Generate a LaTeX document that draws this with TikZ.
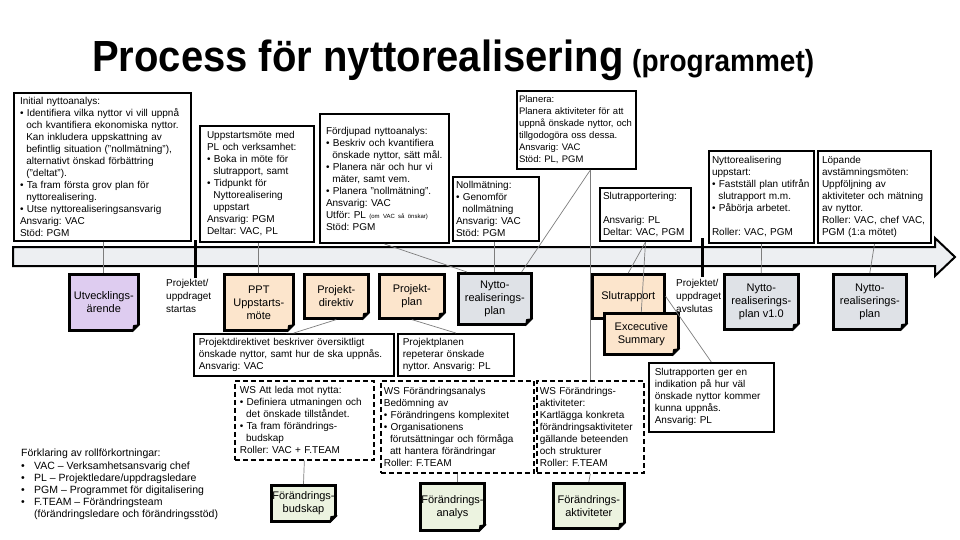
\documentclass[tikz,border=0pt]{standalone}
\usepackage{fontspec}
\setmainfont{Liberation Sans}
\usetikzlibrary{calc}
\definecolor{nrPurple}{RGB}{222,204,240}
\definecolor{nrPeach}{RGB}{252,229,204}
\definecolor{nrSlate}{RGB}{223,226,231}
\definecolor{nrGreen}{RGB}{236,243,224}
\definecolor{nrTrack}{RGB}{237,239,242}
\definecolor{nrWire}{RGB}{125,125,125}
\newcommand{\nrtext}{\fontsize{10}{12}\selectfont}
\newcommand{\nrdocfont}{\fontsize{11}{13}\selectfont}
\newcommand{\bul}{\textbullet\ }
\newcommand{\ind}{\hspace*{6.3pt}}
\tikzset{
  nrbox/.style={draw, line width=2pt, anchor=north west, align=left, inner sep=3pt, font=\nrtext},
  nrnote/.style={nrbox, line width=1.6pt},
  nrws/.style={nrbox, line width=1.7pt, dash pattern=on 5pt off 3pt},
  nrdoc/.style={draw, line width=2.6pt, anchor=north west, align=center, inner sep=1pt, font=\nrdocfont, fill=#1},
  nrline/.style={draw=nrWire, line width=0.7pt},
  nrtick/.style={line width=3pt},
  nrlabel/.style={anchor=north west, align=left, inner sep=0pt, font=\nrtext},
}
% folded corner of a document node
\newcommand{\dogear}[1]{%
  \fill[white] ($(#1.south east)+(-8.5pt,-1.5pt)$) -- ($(#1.south east)+(1.5pt,8.5pt)$) -- ($(#1.south east)+(1.5pt,-1.5pt)$) -- cycle;
  \fill[black, draw, line width=1pt, line join=round] ($(#1.south east)+(-7pt,0pt)$) -- ($(#1.south east)+(0pt,7pt)$) -- ($(#1.south east)+(-6pt,6pt)$) -- cycle;
}

\begin{document}
\frenchspacing
\begin{tikzpicture}[x=1pt, y=-1pt]
  \useasboundingbox (0,0) rectangle (960,540);

  % Title
  \node[anchor=base west, inner sep=0pt, font=\fontsize{40}{48}\selectfont\bfseries] (title) at (92,72) {\scalebox{1}[1.09]{Process för nyttorealisering}};
  \node[anchor=base west, inner sep=0pt, font=\fontsize{28}{34}\selectfont\bfseries] (subtitle) at (632,72) {\scalebox{1}[1.09]{(programmet)}};

  % Timeline
  \draw[line width=2pt, fill=nrTrack, line join=miter] (13,247) -- (935,247) -- (935,238) -- (955,257) -- (935,276) -- (935,266) -- (13,266) -- cycle;
  \draw[nrtick] (195,240) -- (195,278);
  \draw[nrtick] (702,238) -- (702,277);

  % Activities above the timeline
  \node[nrbox, text width=165pt, inner xsep=6pt, minimum height=148pt] (init) at (13,92) {Initial nyttoanalys:\\
    \bul Identifiera vilka nyttor vi vill uppnå\\
    \ind och kvantifiera ekonomiska nyttor.\\
    \ind Kan inkludera uppskattning av\\
    \ind befintlig situation ("nollmätning"),\\
    \ind alternativt önskad förbättring\\
    \ind ("deltat").\\
    \bul Ta fram första grov plan för\\
    \ind nyttorealisering.\\
    \bul Utse nyttorealiseringsansvarig\\
    Ansvarig: VAC\\
    Stöd: PGM};
  \node[nrbox, text width=100pt, inner xsep=7pt, minimum height=116pt] (upp) at (199,125) {Uppstartsmöte med\\
    PL och verksamhet:\\
    \bul Boka in möte för\\
    \ind slutrapport, samt\\
    \bul Tidpunkt för\\
    \ind Nyttorealisering\\
    \ind uppstart\\
    Ansvarig: PGM\\
    Deltar: VAC, PL};
  \node[nrbox, text width=117pt, inner xsep=6pt, minimum height=129pt] (fordj) at (319,113) {Fördjupad nyttoanalys:\\
    \bul Beskriv och kvantifiera\\
    \ind önskade nyttor, sätt mål.\\
    \bul Planera när och hur vi\\
    \ind mäter, samt vem.\\
    \bul Planera "nollmätning".\\
    Ansvarig: VAC\\
    Utför: PL {\fontsize{6}{7}\selectfont(om VAC så önskar)}\\
    Stöd: PGM};
  \node[nrbox, text width=115pt, inner xsep=2pt, minimum height=78pt, font=\fontsize{9.5}{12}\selectfont] (plan) at (516,90) {Planera:\\
    Planera aktiviteter för att\\
    uppnå önskade nyttor, och\\
    tillgodogöra oss dessa.\\
    Ansvarig: VAC\\
    Stöd: PL, PGM};
  \node[nrbox, text width=80pt, minimum height=64pt] (noll) at (452,176) {Nollmätning:\\
    \bul Genomför\\
    \ind nollmätning\\
    Ansvarig: VAC\\
    Stöd: PGM};
  \node[nrbox, text width=85pt, minimum height=53pt] (slrep) at (599,187) {Slutrapportering:\\[12pt]
    Ansvarig: PL\\
    Deltar: VAC, PGM};
  \node[nrbox, text width=99pt, minimum height=92pt] (nyupp) at (708,150) {Nyttorealisering\\
    uppstart:\\
    \bul Fastställ plan utifrån\\
    \ind slutrapport m.m.\\
    \bul Påbörja arbetet.\\[12pt]
    Roller: VAC, PGM};
  \node[nrbox, text width=105pt, inner xsep=4pt, minimum height=92pt] (lop) at (817,150) {Löpande\\
    avstämningsmöten:\\
    Uppföljning av\\
    aktiviteter och mätning\\
    av nyttor.\\
    Roller: VAC, chef VAC,\\
    PGM (1:a mötet)};

  % Documents on the timeline
  \node[nrlabel, font=\fontsize{10}{13}\selectfont] (start) at (166,279) {Projektet/\\uppdraget\\startas};
  \node[nrlabel, font=\fontsize{10}{13}\selectfont] (stop) at (676,279) {Projektet/\\uppdraget\\avslutas};
  \node[nrdoc=nrPurple, minimum width=69pt, minimum height=56pt] (utv) at (68,273) {Utvecklings-\\ärende};
  \node[nrdoc=nrPeach, minimum width=69pt, minimum height=56pt] (ppt) at (223,273) {PPT\\Uppstarts-\\möte};
  \node[nrdoc=nrPeach, minimum width=64pt, minimum height=44pt] (dir) at (303,273) {Projekt-\\direktiv};
  \node[nrdoc=nrPeach, minimum width=65pt, minimum height=44pt] (ppl) at (378,273) {Projekt-\\plan};
  \node[nrdoc=nrSlate, minimum width=73pt, minimum height=51pt] (nrp) at (457,272) {Nytto-\\realiserings-\\plan};
  \node[nrdoc=nrPeach, minimum width=72pt, minimum height=44pt] (slut) at (591,273) {Slutrapport};
  \dogear{slut}
  \node[nrdoc=nrPeach, minimum width=74pt, minimum height=41pt] (exec) at (603,312) {Excecutive\\Summary};
  \node[nrdoc=nrSlate, minimum width=74pt, minimum height=55pt] (nrv) at (723,273) {Nytto-\\realiserings-\\plan v1.0};
  \node[nrdoc=nrSlate, minimum width=73pt, minimum height=55pt] (nrp2) at (832,273) {Nytto-\\realiserings-\\plan};

  % Notes and workshops
  \node[nrnote, text width=190pt, inner xsep=5pt, minimum height=42pt] (pdbox) at (193,333) {Projektdirektivet beskriver översiktligt\\
    önskade nyttor, samt hur de ska uppnås.\\
    Ansvarig: VAC};
  \node[nrnote, text width=106pt, inner xsep=5pt, minimum height=42pt] (ppbox) at (397,333) {Projektplanen\\
    repeterar önskade\\
    nyttor. Ansvarig: PL};
  \node[nrnote, text width=113pt, inner xsep=6pt, minimum height=69pt] (slrap) at (648,362) {Slutrapporten ger en\\
    indikation på hur väl\\
    önskade nyttor kommer\\
    kunna uppnås.\\
    Ansvarig: PL};
  \node[nrws, text width=129pt, inner xsep=5pt, minimum height=79pt] (wsatt) at (234,380) {WS Att leda mot nytta:\\
    \bul Definiera utmaningen och\\
    \ind det önskade tillståndet.\\
    \bul Ta fram förändrings-\\
    \ind budskap\\
    Roller: VAC + F.TEAM};
  \node[nrws, text width=147pt, minimum height=92pt] (wsana) at (380,380) {WS Förändringsanalys\\
    Bedömning av\\
    \bul Förändringens komplexitet\\
    \bul Organisationens\\
    \ind förutsättningar och förmåga\\
    \ind att hantera förändringar\\
    Roller: F.TEAM};
  \node[nrws, text width=101pt, minimum height=92pt] (wsakt) at (536,380) {WS Förändrings-\\
    aktiviteter:\\
    Kartlägga konkreta\\
    förändringsaktiviteter\\
    gällande beteenden\\
    och strukturer\\
    Roller: F.TEAM};
  \node[nrdoc=nrGreen, minimum width=63pt, minimum height=36pt] (bud) at (270,484) {Förändrings-\\budskap};
  \node[nrdoc=nrGreen, minimum width=56pt, minimum height=47pt] (ana) at (419,482) {Förändrings-\\analys};
  \node[nrdoc=nrGreen, minimum width=71pt, minimum height=45pt] (akt) at (552,482) {Förändrings-\\aktiviteter};
  \foreach \d in {utv,ppt,dir,ppl,nrp,exec,nrv,nrp2,bud,ana,akt} {\dogear{\d}}

  % Legend
  \node[nrlabel, font=\fontsize{10.5}{12.2}\selectfont] (legend) at (21,449) {Förklaring av rollförkortningar:\\
    \makebox[13pt][l]{\textbullet}VAC – Verksamhetsansvarig chef\\
    \makebox[13pt][l]{\textbullet}PL – Projektledare/uppdragsledare\\
    \makebox[13pt][l]{\textbullet}PGM – Programmet för digitalisering\\
    \makebox[13pt][l]{\textbullet}F.TEAM – Förändringsteam\\
    \hspace*{13pt}(förändringsledare och förändringsstöd)};

  % Connectors
  \coordinate (planfoot) at (wsakt.north |- plan.south);
  \draw[nrline] (utv.north |- init.south) -- (utv.north);
  \draw[nrline] (ppt.north |- upp.south) -- (ppt.north);
  \draw[nrline] (fordj.south) -- ($(nrp.north west)+(10pt,0)$);
  \draw[nrline] (nrp.north |- noll.south) -- (nrp.north);
  \draw[nrline] (planfoot) -- ($(nrp.north east)+(-11pt,0)$);
  \draw[nrline] (planfoot) -- (wsakt.north);
  \draw[nrline] (slrep.south) -- (slut.north);
  \draw[nrline] (slrep.south) -- (exec.north);
  \draw[nrline] (slut.east) -- (slrap.north);
  \draw[nrline] (nyupp.south) -- (nrv.north);
  \draw[nrline] (lop.south) -- (nrp2.north);
  \draw[nrline] (dir.south) -- (pdbox.north);
  \draw[nrline] (ppl.south) -- (ppbox.north);
  \draw[nrline] (wsatt.south) -- (bud.north);
  \draw[nrline] (wsana.south) -- (wsana.south |- ana.north);
  \draw[nrline] (wsakt.south) -- (akt.north);
\end{tikzpicture}
\end{document}
